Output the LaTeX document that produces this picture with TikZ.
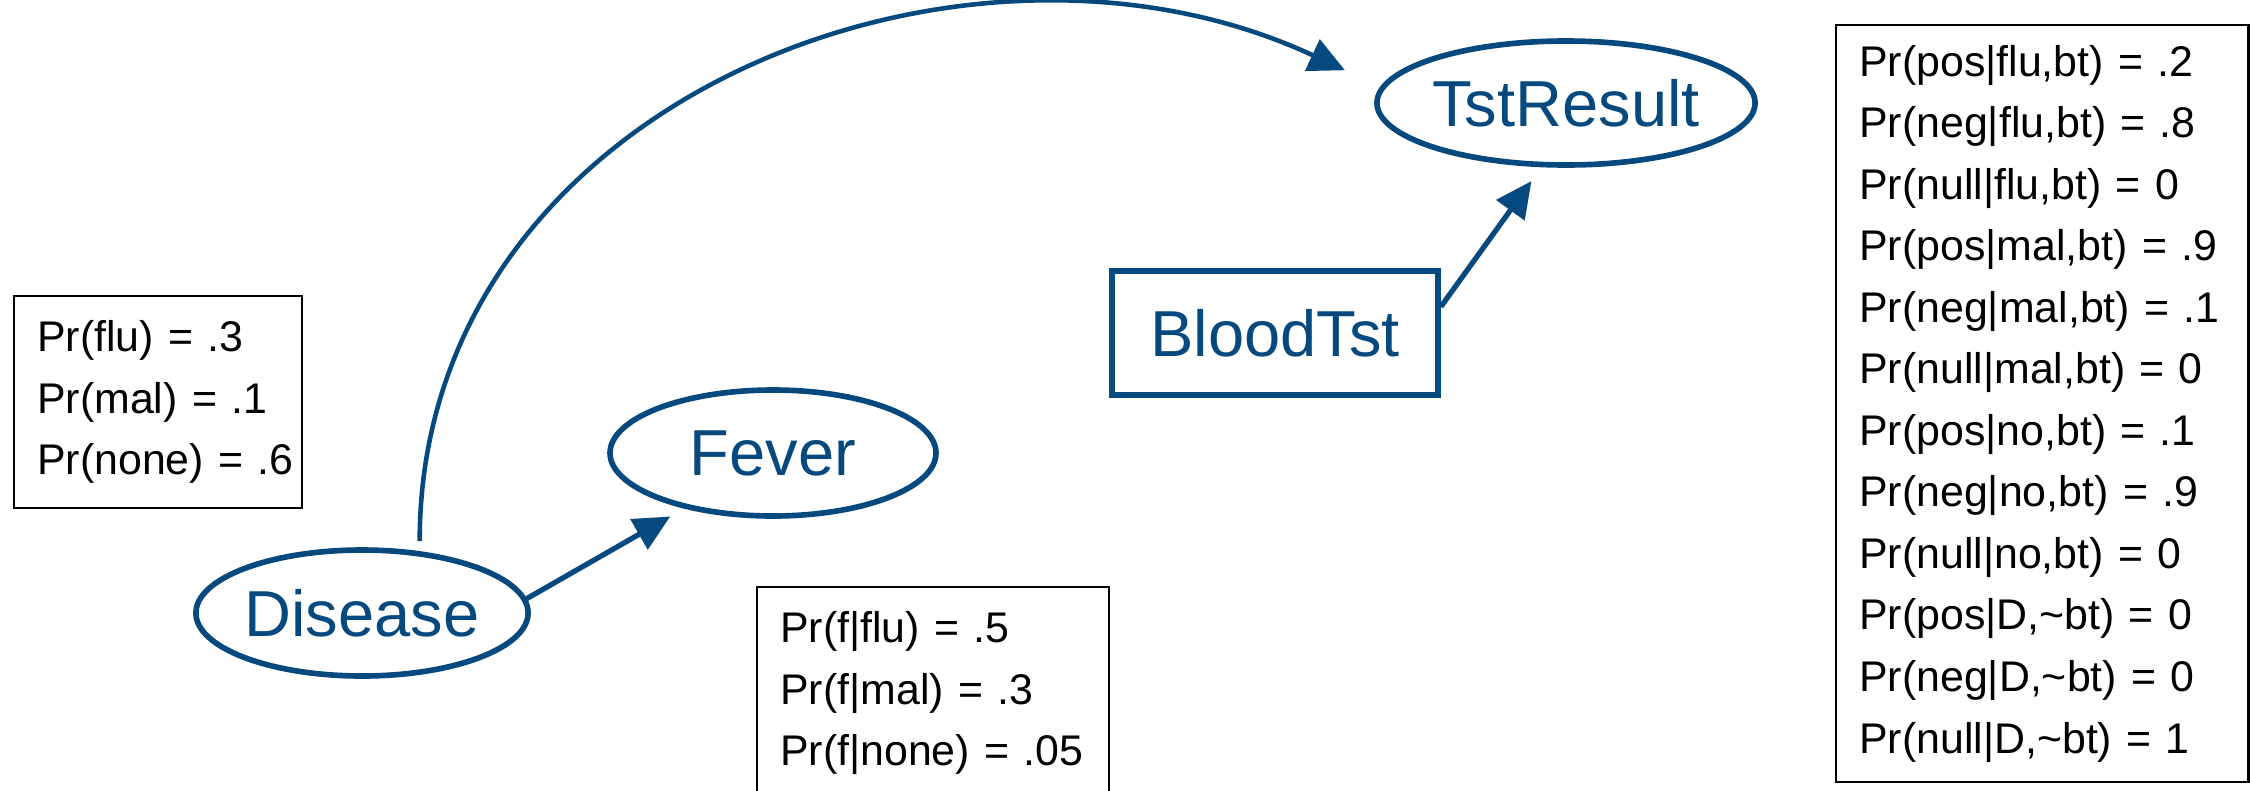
\documentclass[tikz,border=0pt]{standalone}
\usepackage{fontspec}
\setmainfont{Liberation Sans}
\usepackage{tikz}
\usetikzlibrary{arrows.meta,shapes.geometric}
\definecolor{netblue}{HTML}{05497E}

\newcommand{\cptfont}{\fontsize{12.2pt}{17.5pt}\selectfont}
\newcommand{\varfont}{\fontsize{18.5pt}{22pt}\selectfont}

\begin{document}
\begin{tikzpicture}[
    var/.style={draw=netblue, line width=1.6pt, text=netblue, font=\varfont, inner sep=0pt},
    chance/.style={var, ellipse, minimum width=3.26cm, minimum height=1.26cm},
    decision/.style={var, rectangle, minimum width=3.26cm, minimum height=1.24cm},
    edge/.style={draw=netblue, line width=1.5pt, -{Triangle[length=3.6mm,width=3.4mm]}},
    cpt/.style={draw=black, line width=0.7pt, anchor=north west, inner sep=0pt,
        align=left, font=\cptfont, execute at begin node={\leftskip=0.23cm}},
]
    \useasboundingbox (0,0) rectangle (22.5,7.9);

    % ========== Wezly sieci ==========
    \node[chance] (disease) at (3.62,1.77) {Disease};
    \node[chance] (fever) at (7.73,3.37) {Fever};
    \node[chance, minimum width=3.59cm, minimum height=1.24cm] (tstresult) at (15.66,6.87) {TstResult};
    \node[decision] (bloodtst) at (12.75,4.57) {BloodTst};

    % ========== Tablice prawdopodobienstw ==========
    \node[cpt, text width=2.88cm, minimum height=2.12cm] (cptdisease) at (0.13,4.95)
        {Pr(flu) = .3\\ Pr(mal) = .1\\ Pr(none) = .6};
    \node[cpt, text width=3.52cm, minimum height=2.12cm] (cptfever) at (7.56,2.04)
        {Pr(f|flu) = .5\\ Pr(f|mal) = .3\\ Pr(f|none) = .05};
    \node[cpt, text width=4.12cm, minimum height=7.57cm] (cpttst) at (18.35,7.66)
        {Pr(pos|flu,bt) = .2\\ Pr(neg|flu,bt) = .8\\ Pr(null|flu,bt) = 0\\
         Pr(pos|mal,bt) = .9\\ Pr(neg|mal,bt) = .1\\ Pr(null|mal,bt) = 0\\
         Pr(pos|no,bt) = .1\\ Pr(neg|no,bt) = .9\\ Pr(null|no,bt) = 0\\
         Pr(pos|D,\textasciitilde bt) = 0\\ Pr(neg|D,\textasciitilde bt) = 0\\
         Pr(null|D,\textasciitilde bt) = 1};

    % ========== Krawedzie ==========
    \draw[edge, shorten >=0.16cm] (disease.5) -- (fever.212);
    \draw[edge, line width=1.3pt, shorten <=0.1cm, shorten >=0.39cm]
        (disease.47) .. controls +(90:4.5) and +(155:4.6) .. (tstresult.175);
    \draw[edge, shorten >=0.17cm] (bloodtst.9) -- (tstresult.249);
\end{tikzpicture}
\end{document}
